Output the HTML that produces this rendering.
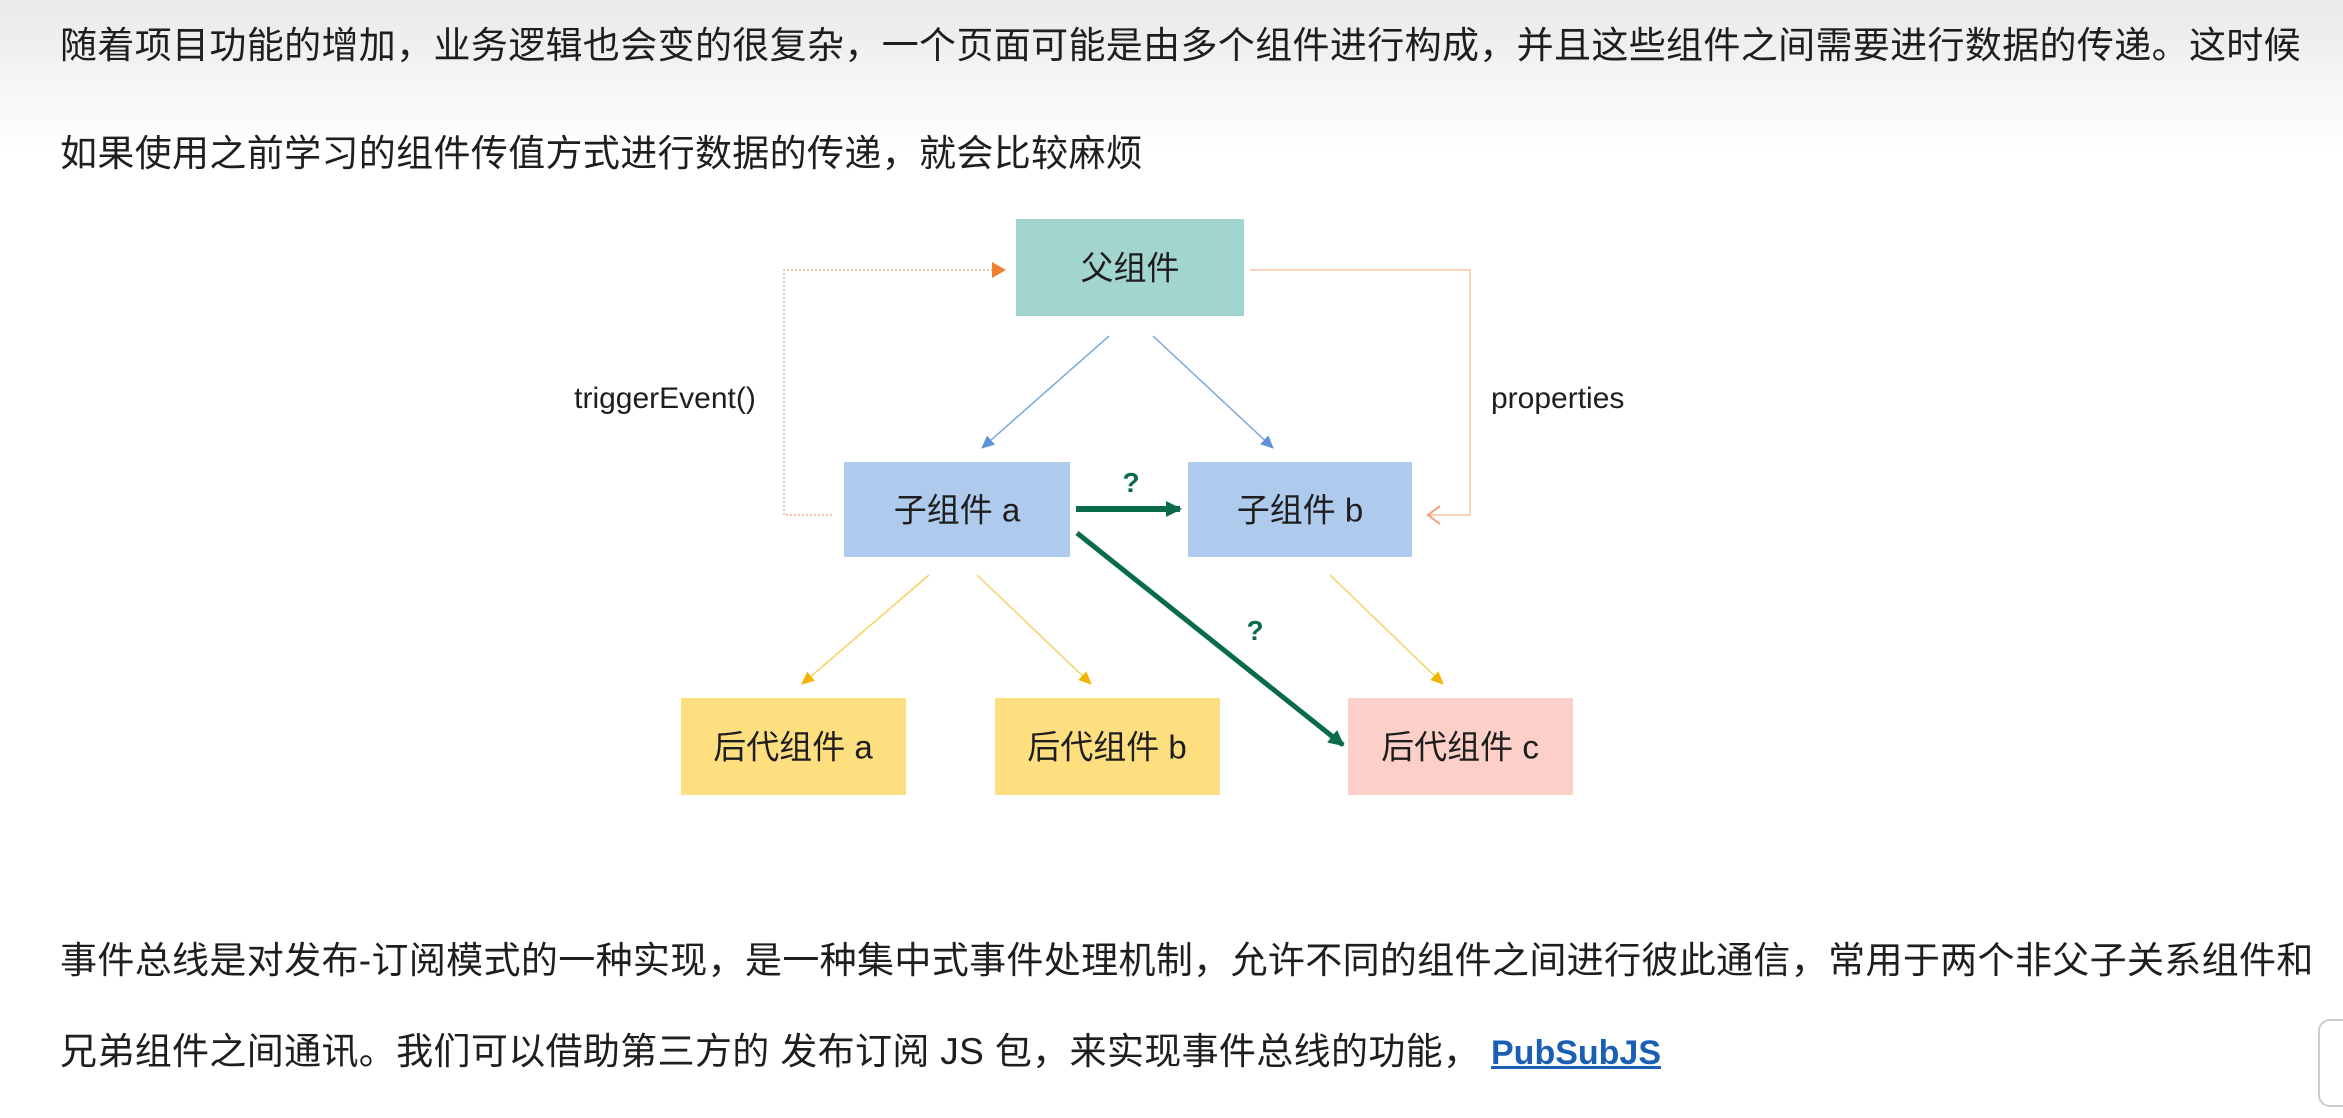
<!DOCTYPE html>
<html><head><meta charset="utf-8"><style>
html,body{margin:0;padding:0}
body{width:2343px;height:1118px;position:relative;overflow:hidden;background:#fff;font-family:"Liberation Sans","Noto Sans CJK SC",sans-serif;color:#1e1e1e}
.bg{position:absolute;left:0;top:0;width:2343px;height:150px;background:linear-gradient(#e9e9e9,#fff)}
.t{position:absolute;left:60px;font-size:37px;letter-spacing:0.35px;white-space:nowrap;line-height:40px}
a{color:#1a5fb4;font-weight:bold;text-decoration:underline;letter-spacing:0;font-size:34px}
</style></head><body>
<div class="bg"></div>
<div class="t" style="top:26px">随着项目功能的增加，业务逻辑也会变的很复杂，一个页面可能是由多个组件进行构成，并且这些组件之间需要进行数据的传递。这时候</div>
<div class="t" style="top:134px">如果使用之前学习的组件传值方式进行数据的传递，就会比较麻烦</div>
<div class="t" style="top:941px">事件总线是对发布-订阅模式的一种实现，是一种集中式事件处理机制，允许不同的组件之间进行彼此通信，常用于两个非父子关系组件和</div>
<div class="t" style="top:1032px">兄弟组件之间通讯。我们可以借助第三方的 发布订阅 JS 包，来实现事件总线的功能， <a style="margin-left:0px">PubSubJS</a></div>
<div style="position:absolute;left:2318px;top:1019px;width:40px;height:84px;border:2px solid #ccc;border-radius:12px;background:#fff"></div>
<svg width="2343" height="1118" style="position:absolute;left:0;top:0" font-family="Liberation Sans,Noto Sans CJK SC,sans-serif">
<defs>
<marker id="bl" markerWidth="14" markerHeight="14" refX="12" refY="7" orient="auto" markerUnits="userSpaceOnUse"><path d="M0,1L13,7L0,13z" fill="#5b93d6"/></marker>
<marker id="yl" markerWidth="14" markerHeight="14" refX="12" refY="7" orient="auto" markerUnits="userSpaceOnUse"><path d="M0,1L13,7L0,13z" fill="#f2b400"/></marker>
<marker id="gr" markerWidth="16" markerHeight="16" refX="14" refY="8" orient="auto" markerUnits="userSpaceOnUse"><path d="M0,0L16,8L0,16z" fill="#0a6b4a"/></marker>
</defs>
<g font-size="33" text-anchor="middle" dominant-baseline="central" fill="#1e1e1e">
<rect x="1016" y="219" width="228" height="97" fill="#a3d5cf"/><text x="1130" y="268">父组件</text>
<rect x="844" y="462" width="226" height="95" fill="#aecbed"/><text x="957" y="510">子组件 a</text>
<rect x="1188" y="462" width="224" height="95" fill="#aecbed"/><text x="1300" y="510">子组件 b</text>
<rect x="681" y="698" width="225" height="97" fill="#fedf80"/><text x="793" y="747">后代组件 a</text>
<rect x="995" y="698" width="225" height="97" fill="#fedf80"/><text x="1107" y="747">后代组件 b</text>
<rect x="1348" y="698" width="225" height="97" fill="#fcd0c8"/><text x="1460" y="747">后代组件 c</text>
</g>
<g fill="none" stroke-width="1.5">
<path d="M832,515H784V270H995" stroke="#f4b08a" stroke-dasharray="2,2"/>
<path d="M992,262L1006,270L992,278z" fill="#f08030" stroke="none"/>
<path d="M1250,270H1470V515H1430" stroke="#f8c4a6"/>
<path d="M1440,506L1428,515L1440,524" stroke="#f4a070" stroke-width="2"/>
<path d="M1109,336L982,448" stroke="#7aa8dc" marker-end="url(#bl)"/>
<path d="M1153,336L1273,448" stroke="#7aa8dc" marker-end="url(#bl)"/>
<path d="M929,575L802,684" stroke="#f5d060" marker-end="url(#yl)"/>
<path d="M977,575L1091,684" stroke="#f5d060" marker-end="url(#yl)"/>
<path d="M1330,575L1443,684" stroke="#f5d060" marker-end="url(#yl)"/>
<path d="M1076,509L1180,509" stroke="#0a6b4a" stroke-width="6" marker-end="url(#gr)"/>
<path d="M1077,533L1343,745" stroke="#0a6b4a" stroke-width="5" marker-end="url(#gr)"/>
</g>
<g font-size="28" font-weight="bold" fill="#0a6b4a" text-anchor="middle">
<text x="1131" y="492">?</text><text x="1255" y="640">?</text>
</g>
<g font-size="30" fill="#1e1e1e">
<text x="665" y="408" text-anchor="middle">triggerEvent()</text>
<text x="1491" y="408">properties</text>
</g>
</svg>
</body></html>
